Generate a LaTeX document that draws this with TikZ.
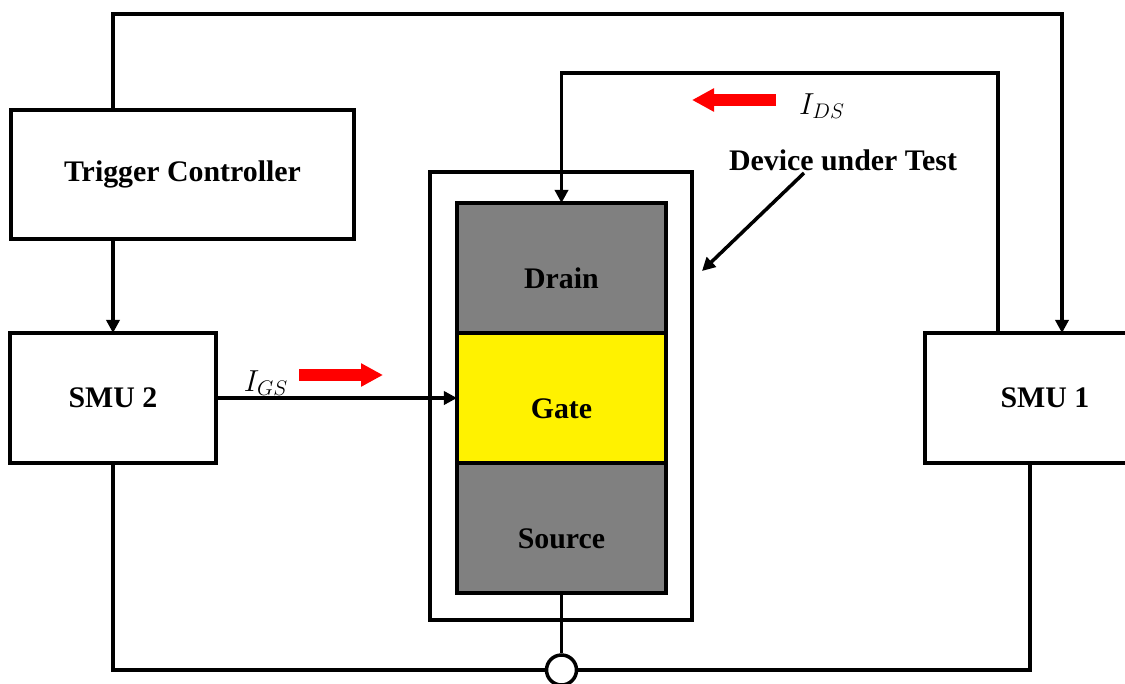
\documentclass[tikz,border=0pt]{standalone}
\usepackage{fontspec}
\setmainfont{Liberation Serif}
\usetikzlibrary{arrows.meta, calc, positioning}
\tikzset{
    caja/.style={draw, line width=2.2pt, fill=white, inner sep=0pt, outer sep=0pt, font=\fontsize{17}{20}\selectfont\bfseries},
    capa/.style={caja, minimum width=4.18cm, minimum height=2.6cm},
    cable/.style={line width=2pt, >={Triangle[length=7.5pt,width=7.5pt]}},
    flecharoja/.style={red, line width=0.25cm, -{Triangle[length=0.44cm,width=0.44cm]}},
}
\newcommand{\bajar}[1]{\raisebox{-0.4cm}[0pt][0pt]{#1}}
\begin{document}
\begin{tikzpicture}[x=0.02cm, y=-0.02cm]
\useasboundingbox (0,0) rectangle (1125,683);
% bloques
\node[caja, minimum width=6.86cm, minimum height=2.58cm] (trig) at (182.5,174.5) {Trigger Controller};
\node[caja, minimum width=4.12cm, minimum height=2.6cm] (smu2) at (113,398) {SMU 2};
\node[caja, minimum width=4.8cm, minimum height=2.6cm] (smu1) at (1045,398) {SMU 1};
% dispositivo
\node[caja, minimum width=5.24cm, minimum height=8.96cm] (dut) at (561,396) {};
\node[capa, fill=black!50] (drain) at (561.5,268) {\bajar{Drain}};
\node[capa, fill=yellow] (gate) at (561.5,398) {\bajar{Gate}};
\node[capa, fill=black!50] (source) at (561.5,528) {\bajar{Source}};
% cables
\coordinate (topR) at (1062,14);
\coordinate (midR) at (998,73);
\coordinate (botR) at (1030,670);
\draw[cable, ->] (trig.north -| smu2.north) |- (topR) -- (topR |- smu1.north);
\draw[cable, ->] (midR |- smu1.north) -- (midR) -| (drain.north);
\draw[cable, ->] (trig.south -| smu2.north) -- (smu2.north);
\draw[cable, ->] (smu2.east) -- (gate.west);
\draw[cable] (smu2.south) |- (botR) -- (botR |- smu1.south);
\node[draw, circle, line width=2pt, fill=white, minimum size=0.6cm, inner sep=0pt] (nodo) at (source.south |- botR) {};
\draw[cable] (source.south) -- (nodo.north);
% corrientes
\node (ids) at (822,106) {\fontsize{18}{20}\selectfont$I_{DS}$};
\node (igs) at (266,383) {\fontsize{18}{20}\selectfont$I_{GS}$};
\draw[flecharoja] (776,100) -- (692,100);
\draw[flecharoja] (299,375) -- (383,375);
% etiqueta
\node[font=\fontsize{17}{20}\selectfont\bfseries] (etq) at (843,160) {Device under Test};
\coordinate (punta) at (702,271);
\draw[cable, ->] (804,173) -- (punta);
\end{tikzpicture}
\end{document}
